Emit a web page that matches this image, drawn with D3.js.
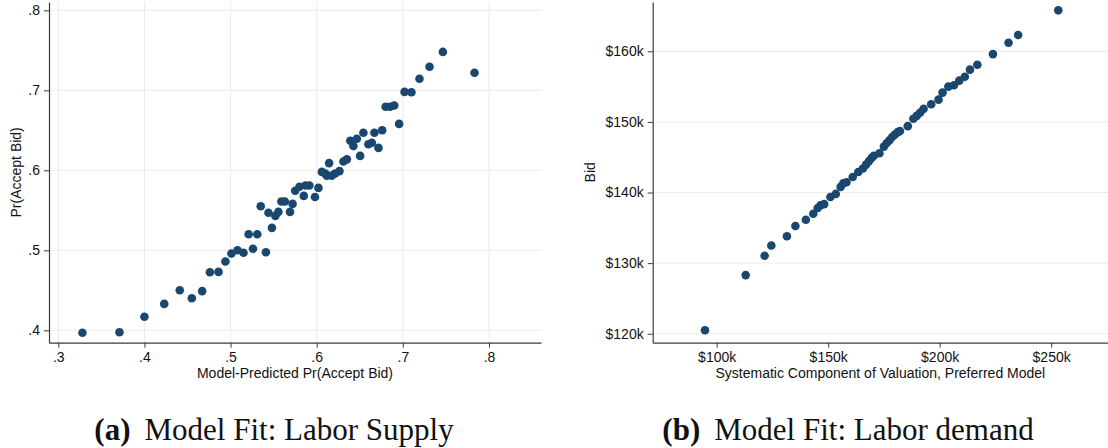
<!DOCTYPE html>
<html>
<head>
<meta charset="utf-8">
<script src="https://cdn.jsdelivr.net/npm/d3@7"></script>
<style>
  body { margin: 0; background: #fff; }
  svg { display: block; }
</style>
</head>
<body>
<div id="chart"></div>
<script>
// ---- data ----
// (a) labor supply: model-predicted vs observed Pr(Accept Bid)
const supplyPred = [.328, .371, .400, .423, .441, .455, .467, .476, .486, .494,
  .501, .508, .515, .521, .526, .531, .535, .541, .544, .548,
  .552, .5555, .559, .563, .569, .572, .575, .580, .585, .587,
  .5915, .598, .602, .606, .610, .6144, .6117, .6175, .6214, .6264,
  .631, .635, .639, .6426, .6466, .6504, .6542, .660, .664, .667,
  .6717, .676, .680, .6853, .690, .6957, .702, .710, .7193, .731,
  .7465, .7832];
const supplyObs = [.397, .3975, .417, .433, .450, .440, .449, .4725, .473, .486,
  .496, .500, .497, .520, .502, .520, .555, .4975, .547, .528,
  .543, .548, .561, .561, .548, .558, .5745, .5795, .568, .581,
  .581, .5666, .578, .598, .596, .609, .5933, .5933, .596, .599,
  .611, .6137, .637, .6304, .6395, .618, .647, .6325, .6345, .647,
  .628, .650, .6795, .6795, .681, .658, .698, .6975, .7145, .7295,
  .748, .722];
const supplyXTicks = [.3, .4, .5, .6, .7, .8];
const supplyYTicks = [.4, .5, .6, .7, .8];

// (b) labor demand: systematic valuation vs bid, in $k
const demandVal = [94.75, 113.0, 121.5, 124.5, 131.5, 135.3, 140.0, 143.3, 145.3, 146.6,
  148.2, 151.0, 153.4, 155.6, 156.8, 158.2, 161.0, 163.5, 165.6, 167.0,
  168.3, 169.5, 170.5, 173.0, 175.0, 176.3, 177.5, 178.7, 179.9, 181.2,
  182.2, 185.7, 188.2, 189.7, 191.2, 192.8, 196.2, 199.5, 201.3, 203.9,
  206.4, 208.8, 211.3, 213.6, 216.9, 223.9, 230.9, 235.2, 253.2];
const demandBid = [120.5, 128.3, 131.05, 132.5, 133.8, 135.25, 136.15, 137.0, 137.8, 138.2,
  138.35, 139.36, 139.8, 140.8, 141.3, 141.45, 142.2, 142.9, 143.4, 143.95,
  144.45, 144.9, 145.2, 145.55, 146.5, 147.0, 147.4, 147.85, 148.2, 148.55,
  148.7, 149.4, 150.45, 150.85, 151.3, 151.85, 152.5, 153.15, 154.15, 155.0,
  155.2, 155.85, 156.4, 157.4, 158.1, 159.6, 161.2, 162.3, 165.8];
const demandXTicks = [100, 150, 200, 250];
const demandYTicks = [120, 130, 140, 150, 160];

const W = 1108, H = 448;
const dotColor = "#1a476f";
const gridColor = "#ebebeb";
const axisColor = "#3a3a3a";
const sans = "'Liberation Sans', Arial, Helvetica, sans-serif";
const serif = "'Liberation Serif', 'Times New Roman', serif";

const svg = d3.select("#chart")
  .append("svg")
  .attr("width", W)
  .attr("height", H);

const plotTop = 2, plotBottom = 342.7;

function panel(opt) {
  const g = svg.append("g");
  const x = d3.scaleLinear().domain(opt.xDomain).range([opt.left, opt.right]);
  const y = d3.scaleLinear().domain(opt.yDomain).range([plotBottom, plotTop]);

  // gridlines
  g.append("g").selectAll("line")
    .data(opt.yTicks)
    .join("line")
      .attr("x1", opt.left).attr("x2", opt.right)
      .attr("y1", d => y(d)).attr("y2", d => y(d))
      .attr("stroke", gridColor).attr("stroke-width", 1);
  if (opt.vGrid) {
    g.append("g").selectAll("line")
      .data(opt.xTicks)
      .join("line")
        .attr("x1", d => x(d)).attr("x2", d => x(d))
        .attr("y1", plotTop).attr("y2", plotBottom)
        .attr("stroke", gridColor).attr("stroke-width", 1);
  }

  // axes
  const xAxis = d3.axisBottom(x).tickValues(opt.xTicks).tickFormat(opt.xFmt)
    .tickSize(5).tickSizeOuter(0).tickPadding(4);
  const yAxis = d3.axisLeft(y).tickValues(opt.yTicks).tickFormat(opt.yFmt)
    .tickSize(5).tickSizeOuter(0).tickPadding(4);

  const gx = g.append("g").attr("transform", `translate(0,${plotBottom})`).call(xAxis);
  const gy = g.append("g").attr("transform", `translate(${opt.left},0)`).call(yAxis);
  [gx, gy].forEach(a => {
    a.select(".domain").attr("stroke", axisColor).attr("stroke-width", 1.2);
    a.selectAll(".tick line").attr("stroke", axisColor);
    a.selectAll(".tick text")
      .attr("fill", "#111")
      .style("font-family", sans)
      .style("font-size", "14px");
  });

  // points
  g.append("g").selectAll("circle")
    .data(d3.zip(opt.xs, opt.ys))
    .join("circle")
      .attr("cx", d => x(d[0]))
      .attr("cy", d => y(d[1]))
      .attr("r", 4.3)
      .attr("fill", dotColor);

  // axis titles
  g.append("text")
    .attr("x", (opt.left + opt.right) / 2)
    .attr("y", 378)
    .attr("text-anchor", "middle")
    .style("font-family", sans)
    .style("font-size", "14px")
    .attr("fill", "#111")
    .text(opt.xTitle);

  g.append("text")
    .attr("transform", `translate(${opt.yTitleX},${(plotTop + plotBottom) / 2}) rotate(-90)`)
    .attr("text-anchor", "middle")
    .style("font-family", sans)
    .style("font-size", "14px")
    .attr("fill", "#111")
    .text(opt.yTitle);

  // caption under the panel
  const cap = g.append("text")
    .attr("x", opt.capX)
    .attr("y", 440)
    .attr("text-anchor", "middle")
    .style("font-family", serif)
    .style("font-size", "31px")
    .attr("fill", "#111");
  cap.append("tspan").style("font-weight", "bold").text(opt.capTag);
  cap.append("tspan").attr("dx", 14).text(opt.capText);
}

panel({
  left: 49, right: 541,
  xDomain: [.2892, .8604], yDomain: [.3845, .8104],
  xTicks: supplyXTicks, yTicks: supplyYTicks,
  xFmt: d => d3.format(".1f")(d).replace(/^0/, ""),
  yFmt: d => d3.format(".1f")(d).replace(/^0/, ""),
  xs: supplyPred, ys: supplyObs,
  vGrid: true,
  xTitle: "Model-Predicted Pr(Accept Bid)",
  yTitle: "Pr(Accept Bid)", yTitleX: 20.5,
  capX: 274, capTag: "(a)", capText: "Model Fit: Labor Supply"
});

panel({
  left: 652.7, right: 1108,
  xDomain: [71.3, 275.5], yDomain: [118.73, 166.98],
  xTicks: demandXTicks, yTicks: demandYTicks,
  xFmt: d => "$" + d + "k",
  yFmt: d => "$" + d + "k",
  xs: demandVal, ys: demandBid,
  vGrid: false,
  xTitle: "Systematic Component of Valuation, Preferred Model",
  yTitle: "Bid", yTitleX: 595,
  capX: 848, capTag: "(b)", capText: "Model Fit: Labor demand"
});
</script>
</body>
</html>
